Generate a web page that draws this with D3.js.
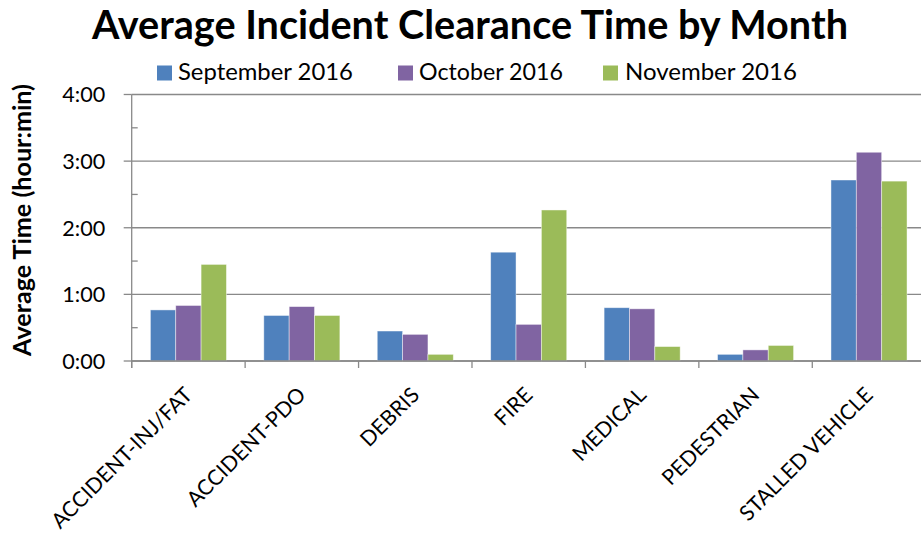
<!DOCTYPE html>
<html>
<head>
<meta charset="utf-8">
<script src="https://cdn.jsdelivr.net/npm/d3@7"></script>
<style>
  html, body { margin: 0; padding: 0; background: #fff; }
  svg { display: block; }
  text { font-family: Lato, "Noto Sans", "Liberation Sans", sans-serif; fill: #000; }
</style>
</head>
<body>
<svg id="chart" width="921" height="537"></svg>
<script>
// ---- Data (values in minutes) ----
const categories = ["ACCIDENT-INJ/FAT", "ACCIDENT-PDO", "DEBRIS", "FIRE", "MEDICAL", "PEDESTRIAN", "STALLED VEHICLE"];
const seriesNames = ["September 2016", "October 2016", "November 2016"];
const september2016 = [46, 41, 27, 98, 48, 6, 163];
const october2016   = [50, 49, 24, 33, 47, 10, 188];
const november2016  = [87, 41, 6, 136, 13, 14, 162];
const yTickValues = [0, 60, 120, 180, 240];
const yMinorTickValues = [30, 90, 150, 210];
const titleText = "Average Incident Clearance Time by Month";
const yAxisTitle = "Average Time (hour:min)";

const seriesValues = [september2016, october2016, november2016];
const colors = ["#4F81BD", "#8064A2", "#9BBB59"];
const gridColor = "#898989";

const svg = d3.select("#chart");
const W = 921, H = 537;
const plot = { left: 131.7, top: 94.5, bottom: 361, step: 113.43 };

const x = d3.scaleBand()
  .domain(categories)
  .range([plot.left, plot.left + plot.step * categories.length])
  .padding(0);
const xInner = d3.scaleBand()
  .domain(seriesNames)
  .range([0, x.bandwidth()])
  .paddingInner(0)
  .paddingOuter(0.737);
const y = d3.scaleLinear().domain([0, 240]).range([plot.bottom, plot.top]);

const fmt = m => `${Math.floor(m / 60)}:${String(m % 60).padStart(2, "0")}`;

function fitFont(sel, size, targetWidth) {
  sel.attr("font-size", size);
  const len = sel.node().getComputedTextLength();
  sel.attr("font-size", size * targetWidth / len);
  return size * targetWidth / len;
}

// ---- Gridlines ----
svg.append("g")
  .selectAll("line")
  .data(yTickValues)
  .join("line")
  .attr("x1", plot.left).attr("x2", W)
  .attr("y1", d => y(d)).attr("y2", d => y(d))
  .attr("stroke", gridColor).attr("stroke-width", 1.3);

// ---- Bars ----
const rows = categories.map((c, i) => ({ cat: c, vals: seriesNames.map((s, j) => ({ s, j, v: seriesValues[j][i] })) }));
svg.append("g")
  .selectAll("g")
  .data(rows)
  .join("g")
  .attr("transform", d => `translate(${x(d.cat)},0)`)
  .selectAll("rect")
  .data(d => d.vals)
  .join("rect")
  .attr("x", d => xInner(d.s))
  .attr("width", xInner.bandwidth())
  .attr("y", d => y(d.v))
  .attr("height", d => y(0) - y(d.v))
  .attr("fill", d => colors[d.j])
  .attr("stroke", "rgba(255,255,255,0.55)")
  .attr("stroke-width", 0.8);

// ---- Y axis ----
const yAxisG = svg.append("g").attr("transform", `translate(${plot.left},0)`);
yAxisG.append("line")
  .attr("x1", 0).attr("x2", 0)
  .attr("y1", plot.top).attr("y2", plot.bottom + 7)
  .attr("stroke", gridColor).attr("stroke-width", 1.3);
yAxisG.selectAll(".maj")
  .data(yTickValues)
  .join("line")
  .attr("x1", -8).attr("x2", 0)
  .attr("y1", d => y(d)).attr("y2", d => y(d))
  .attr("stroke", gridColor).attr("stroke-width", 1.3);
yAxisG.selectAll(".min")
  .data(yMinorTickValues)
  .join("line")
  .attr("x1", 0).attr("x2", 6)
  .attr("y1", d => y(d)).attr("y2", d => y(d))
  .attr("stroke", gridColor).attr("stroke-width", 1.3);
const yLabels = yAxisG.selectAll(".ylab")
  .data(yTickValues)
  .join("text")
  .attr("x", -26.5)
  .attr("y", d => y(d))
  .attr("dy", "0.36em")
  .attr("text-anchor", "end")
  .text(d => fmt(d));
const yFs = fitFont(d3.select(yLabels.nodes()[4]), 24, 43);
yLabels.attr("font-size", yFs);

// ---- X axis ----
const xAxisG = svg.append("g");
xAxisG.append("line")
  .attr("x1", plot.left).attr("x2", W)
  .attr("y1", plot.bottom).attr("y2", plot.bottom)
  .attr("stroke", gridColor).attr("stroke-width", 1.3);
const boundaries = categories.map(c => x(c)).concat([x(categories[categories.length - 1]) + x.bandwidth()]);
xAxisG.selectAll(".xt")
  .data(boundaries)
  .join("line")
  .attr("x1", d => d).attr("x2", d => d)
  .attr("y1", plot.bottom).attr("y2", plot.bottom + 7)
  .attr("stroke", gridColor).attr("stroke-width", 1.3);
const xLabels = xAxisG.selectAll(".xl")
  .data(categories)
  .join("text")
  .attr("text-anchor", "end")
  .attr("transform", d => `translate(${x(d) + x.bandwidth() / 2},${plot.bottom + 30}) rotate(-45)`)
  .attr("dy", "0.35em")
  .text(d => d);
const xFs = fitFont(d3.select(xLabels.nodes()[1]), 22, 158);
xLabels.attr("font-size", xFs);

// ---- Y axis title ----
const yt = svg.append("text")
  .attr("transform", `translate(31,220) rotate(-90)`)
  .attr("text-anchor", "middle")
  .attr("font-weight", "bold")
  .text(yAxisTitle);
fitFont(yt, 22, 272);

// ---- Title ----
const tt = svg.append("text")
  .attr("x", 470).attr("y", 39)
  .attr("text-anchor", "middle")
  .attr("font-weight", "bold")
  .text(titleText);
fitFont(tt, 36, 756);

// ---- Legend ----
const legendPos = [
  { sx: 157, tx: 178, w: 175 },
  { sx: 398, tx: 419, w: 144 },
  { sx: 603, tx: 625, w: 172 }
];
const lg = svg.append("g");
seriesNames.forEach((s, i) => {
  lg.append("rect")
    .attr("x", legendPos[i].sx).attr("y", 65.5)
    .attr("width", 15).attr("height", 15)
    .attr("fill", colors[i]);
  const t = lg.append("text")
    .attr("x", legendPos[i].tx).attr("y", 80)
    .text(s);
  fitFont(t, 24, legendPos[i].w);
});
</script>
</body>
</html>
